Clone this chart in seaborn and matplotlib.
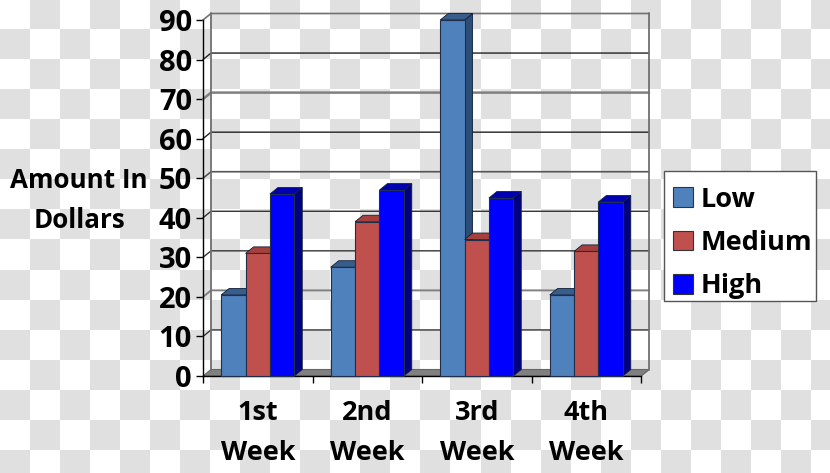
import numpy as np
import pandas as pd
import matplotlib
matplotlib.use("Agg")
import matplotlib.pyplot as plt
import seaborn as sns
from matplotlib.colors import ListedColormap
from matplotlib.patches import Polygon, Rectangle

weeks = ["1st\nWeek", "2nd\nWeek", "3rd\nWeek", "4th\nWeek"]
levels = ["Low", "Medium", "High"]
low = [20.5, 27.5, 90, 20.5]
medium = [31, 39, 34.5, 31.5]
high = [46, 47, 45, 44]
y_ticks = [0, 10, 20, 30, 40, 50, 60, 70, 80, 90]

front_colors = ["#4f81bd", "#c0504d", "#0000ff"]
side_colors = ["#2c4d75", "#8c3a38", "#000080"]
top_colors = ["#385d8a", "#a5403d", "#0000b0"]
# gridlines look uneven in the picture, dark ones and grey ones
grid_colors = ["#808080", "#333333", "#808080", "#333333", "#333333",
               "#555555", "#222222", "#808080", "#222222", "#707070"]
grid_widths = [1, 1, 1.4, 1, 1, 1.2, 1, 1.8, 1, 1.2]

df = pd.DataFrame({
    "week": weeks * 3,
    "level": [l for l in levels for _ in weeks],
    "amount": low + medium + high,
})

sns.set_style("ticks")
plt.rcParams["font.family"] = ["Open Sans", "DejaVu Sans"]
plt.rcParams["font.weight"] = "bold"
plt.rcParams["text.color"] = "black"
plt.rcParams["xtick.labelcolor"] = "black"
plt.rcParams["ytick.labelcolor"] = "black"

fig = plt.figure(figsize=(8.3, 4.73), dpi=100)

# checker background, this axes is in pixels
bg = fig.add_axes([0, 0, 1, 1], zorder=0)
rows, cols = np.indices((16, 28))
bg.imshow((rows + cols) % 2, cmap=ListedColormap(["white", "#e0e0e0"]), vmin=0, vmax=1,
          extent=(0, 840, 480, 0), interpolation="nearest", aspect="auto")
bg.set_xlim(0, 830)
bg.set_ylim(473, 0)
bg.axis("off")
# legend box drawn on its own so its size can be set
bg.add_patch(Rectangle((664, 171), 152, 130, facecolor="white", edgecolor="#555555", lw=1))

ax = fig.add_axes([203 / 830, 97 / 473, 438 / 830, 356 / 473], zorder=1)
ax.patch.set_alpha(0)
sns.barplot(data=df, x="week", y="amount", hue="level", hue_order=levels, order=weeks,
            palette=front_colors, width=0.667, gap=0, saturation=1, ax=ax)
ax.set_xlim(-0.5, 3.5)
ax.set_ylim(0, 90)

# depth of the fake 3d, in data units
dx = 8 / 109.5
dy = 6.5 * 90 / 356

# back wall, floor
ax.add_patch(Polygon([(-0.5, 0), (-0.5 + dx, dy), (3.5 + dx, dy), (3.5, 0)], closed=True,
                     facecolor="#808080", edgecolor="#666666", lw=0.8, clip_on=False, zorder=1))
for v, c, w in zip(y_ticks, grid_colors, grid_widths):
    if v > 0:
        ax.plot([-0.5, -0.5 + dx, 3.5 + dx], [v, v + dy, v + dy], color=c, lw=w,
                clip_on=False, zorder=1)
ax.plot([-0.5 + dx, -0.5 + dx], [dy, 90 + dy], color="#707070", lw=1.3, clip_on=False, zorder=1)
ax.plot([3.5 + dx, 3.5 + dx], [dy, 90 + dy], color="#707070", lw=1.3, clip_on=False, zorder=1)
ax.plot([3.5, 3.5 + dx], [0, dy], color="#707070", lw=1, clip_on=False, zorder=1)

# side and top faces from the drawn bars
bars = []
for i, cont in enumerate(ax.containers):
    for b in cont:
        bars.append((b.get_x(), i, b))
bars.sort(key=lambda t: t[0])
z = 2
for x0, i, b in bars:
    x1 = x0 + b.get_width()
    h = b.get_height()
    ax.add_patch(Polygon([(x1, 0), (x1, h), (x1 + dx, h + dy), (x1 + dx, dy)], closed=True,
                         facecolor=side_colors[i], edgecolor="#10203a", lw=0.6, clip_on=False, zorder=z))
    ax.add_patch(Polygon([(x0, h), (x0 + dx, h + dy), (x1 + dx, h + dy), (x1, h)], closed=True,
                         facecolor=top_colors[i], edgecolor="#10203a", lw=0.6, clip_on=False, zorder=z))
    b.set_edgecolor("#1f2f4a")
    b.set_linewidth(0.8)
    b.set_zorder(z + 1)
    b.set_clip_on(False)
    z += 2

handles, labels = ax.get_legend_handles_labels()
for h in handles:
    h.set_edgecolor("#333333")
    h.set_linewidth(0.8)
ax.legend(handles, labels, loc="upper left", bbox_to_anchor=(673 / 830, 1 - 186.5 / 473),
          bbox_transform=fig.transFigure, borderaxespad=0, fontsize=19.5, frameon=False,
          handlelength=0.74, handleheight=0.74, handletextpad=0.27, labelspacing=0.64, borderpad=0)
ax.get_legend().set_zorder(100)

sns.despine(ax=ax)
ax.spines["left"].set_color("black")
ax.spines["bottom"].set_color("black")
ax.spines["left"].set_linewidth(1)
ax.spines["bottom"].set_linewidth(1)
ax.spines["left"].set_zorder(1)

ax.set_yticks(y_ticks)
ax.set_xticks([-0.5, 0.5, 1.5, 2.5, 3.5], labels=[], minor=False)
ax.set_xticks([0, 1, 2, 3], labels=weeks, minor=True)
ax.tick_params(axis="x", which="major", length=5, width=1, color="black")
ax.tick_params(axis="x", which="minor", length=0, pad=17.5, labelsize=19.5)
ax.tick_params(axis="y", length=5, width=1, color="black", pad=3, labelsize=21)
for t in ax.get_xticklabels(minor=True):
    t.set_linespacing(1.7)
    t.set_fontweight("bold")
for t in ax.get_yticklabels():
    t.set_fontweight("bold")
ax.set_xlabel("")
ax.set_ylabel("")

fig.text(79 / 830, 1 - 200.5 / 473, "Amount In\nDollars", ha="center", va="center", fontsize=18.7,
         fontweight="bold", linespacing=1.6)

fig.savefig("out.png", dpi=100)
